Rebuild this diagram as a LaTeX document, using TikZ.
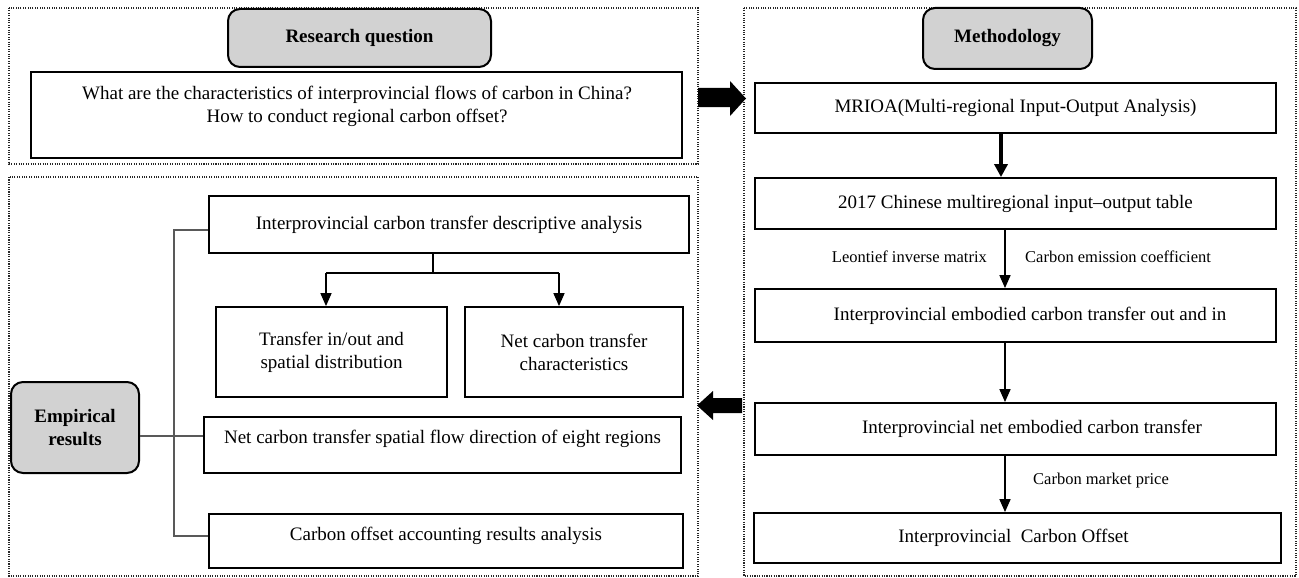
\documentclass[tikz,border=0pt]{standalone}
\usepackage{fontspec}
\setmainfont{Liberation Serif}
\usetikzlibrary{arrows.meta}
\newcommand\mfs{\fontsize{19}{23}\selectfont}
\newcommand\lfs{\fontsize{16.5}{20}\selectfont}
\newcommand\hfs{\fontsize{19}{23}\selectfont\bfseries}
\begin{document}
\begin{tikzpicture}[x=1pt,y=-1pt,
  box/.style={draw, line width=1.8pt, fill=white, inner sep=2pt, font=\mfs, align=center},
  headbox/.style={draw, line width=2pt, rounded corners=12pt, fill=gray!35, inner sep=2pt, font=\hfs, align=center},
  panel/.style={draw=black!85, line width=1.1pt, dash pattern=on 1.1pt off 1.3pt},
  arr/.style={-{Triangle[length=13pt,width=11pt]}, line width=1.6pt},
  fatarr/.style={-{Triangle[length=13pt,width=13pt]}, line width=3.5pt},
  conn/.style={draw=black!65, line width=1.3pt},
  lbl/.style={font=\lfs, inner sep=0pt},
  blockarrow/.style={fill=black}
]
\useasboundingbox (0,0) rectangle (1299,578);
\fill[white] (0,0) rectangle (1299,578);

% panels
\draw[panel] (9,8) rectangle (698,164);
\draw[panel] (9,177) rectangle (698,576);
\draw[panel] (744,8) rectangle (1296,576);

% research question
\node[headbox, minimum width=263pt, minimum height=58pt] (rq) at (359.5,38) {Research question};
\node[box, minimum width=651pt, minimum height=86pt] (q) at (356.5,115) {};
\node[font=\mfs, align=center, inner sep=0pt] (qtext) at (357,106) {What are the characteristics of interprovincial flows of carbon in China?\\How to conduct regional carbon offset?};

% methodology
\node[headbox, minimum width=169pt, minimum height=61pt] (meth) at (1007.5,38.5) {Methodology};
\node[box, minimum width=521pt, minimum height=50pt] (mrioa) at (1015.5,108) {MRIOA(Multi-regional Input-Output Analysis)};
\node[box, minimum width=521pt, minimum height=51pt] (tbl) at (1015.5,203.5) {2017 Chinese multiregional input--output table};
\node[box, minimum width=521pt, minimum height=53pt] (emb) at (1015.5,315.5) {\hspace*{29pt}Interprovincial embodied carbon transfer out and in};
\node[box, minimum width=521pt, minimum height=52pt] (net) at (1015.5,429) {\hspace*{33pt}Interprovincial net embodied carbon transfer};
\node[box, minimum width=527pt, minimum height=50pt] (off) at (1017.5,538) {Interprovincial~ Carbon Offset\hspace*{8pt}};

\coordinate (xa) at (1001,0);
\coordinate (xb) at (1005,0);
\draw[fatarr] (mrioa.south -| xa) -- (tbl.north -| xa);
\draw[arr] (tbl.south -| xb) -- (emb.north -| xb);
\draw[arr] (emb.south -| xb) -- (net.north -| xb);
\draw[arr] (net.south -| xb) -- (off.north -| xb);
\node[lbl, anchor=east] (l1) at (987,257) {Leontief inverse matrix};
\node[lbl, anchor=west] (l2) at (1025,257) {Carbon emission coefficient};
\node[lbl, anchor=west] (l3) at (1033,481) {Carbon market price};

% block arrows between panels
\fill[blockarrow] (698,88) -- (730,88) -- (730,81) -- (746,98.5) -- (730,116) -- (730,107) -- (698,107) -- cycle;
\fill[blockarrow] (742,398) -- (713,398) -- (713,391) -- (697,405.5) -- (713,420) -- (713,413) -- (742,413) -- cycle;

% empirical results
\node[box, minimum width=480pt, minimum height=57pt] (desc) at (449,224.5) {Interprovincial carbon transfer descriptive analysis};
\node[box, minimum width=231pt, minimum height=90pt] (tio) at (331.5,352) {Transfer in/out and\\spatial distribution};
\node[box, minimum width=218pt, minimum height=90pt] (nct) at (574,352) {Net carbon transfer\\characteristics};
\node[headbox, minimum width=128pt, minimum height=91pt] (emp) at (75,427.5) {Empirical\\results};
\node[box, minimum width=477pt, minimum height=56pt] (nsf) at (442.5,445) {Net carbon transfer spatial flow direction of eight regions\\[-7pt]\mbox{}};
\node[box, minimum width=474pt, minimum height=54pt] (coa) at (446,541) {Carbon offset accounting results analysis\\[-9pt]\mbox{}};

% branch
\coordinate (bs) at (433,273);
\coordinate (bl) at (326,273);
\coordinate (br) at (559,273);
\draw[line width=1.1pt] (desc.south -| bs) -- (bs);
\draw[line width=1.5pt] (bl) -- (br);
\draw[arr] (bl) -- (tio.north -| bl);
\draw[arr] (br) -- (nct.north -| br);

% connector tree
\coordinate (t1) at (174,230);
\coordinate (t2) at (174,536);
\coordinate (t3) at (174,436);
\draw[conn] (desc.west |- t1) -- (t1) -- (t2) -- (coa.west |- t2);
\draw[conn] (emp.east |- t3) -- (nsf.west |- t3);
\end{tikzpicture}
\end{document}
